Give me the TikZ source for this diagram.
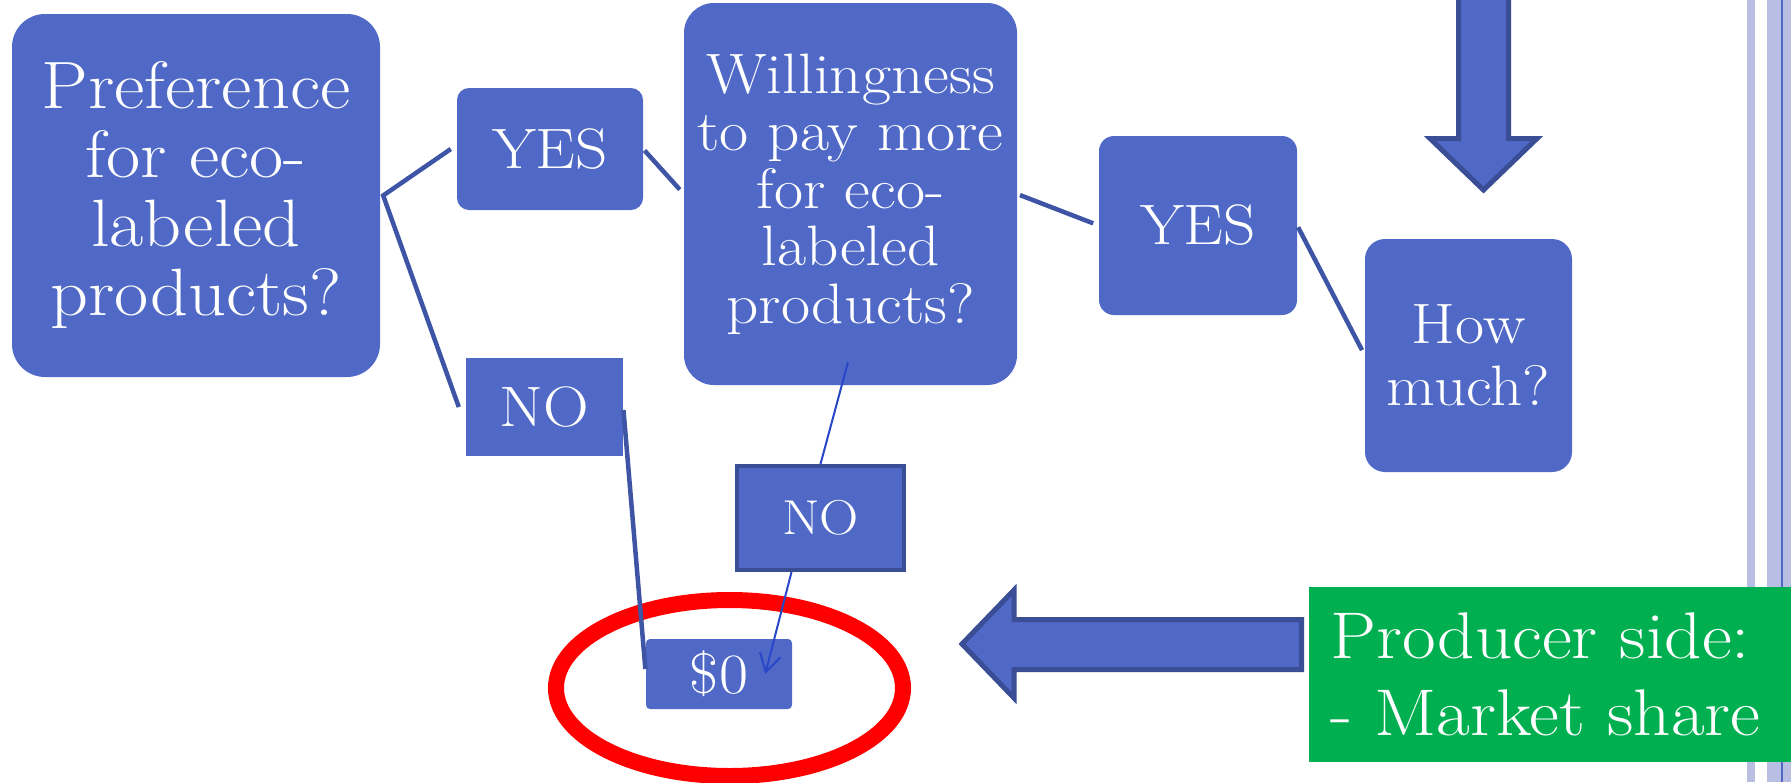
\documentclass[tikz,border=0pt]{standalone}
\usepackage{fontspec}
\setmainfont{Latin Modern Roman}[FakeStretch=1.11]
\usetikzlibrary{arrows.meta}

\definecolor{boxblue}{RGB}{80,105,199}
\definecolor{edgeblue}{RGB}{58,78,150}
\definecolor{linkblue}{RGB}{62,84,165}
\definecolor{thinblue}{RGB}{40,70,200}
\definecolor{barlilac}{RGB}{185,191,227}
\definecolor{prodgreen}{RGB}{0,176,80}

\newcommand{\hugetxt}{\fontsize{67}{69}\selectfont}
\newcommand{\bigtxt}{\fontsize{57}{57.5}\selectfont}
\newcommand{\smalltxt}{\fontsize{49}{50}\selectfont}

\tikzset{
  qbox/.style={fill=boxblue, text=white, align=center, inner sep=0pt, rounded corners=#1},
  qbox/.default=12pt,
  link/.style={draw=linkblue, line width=4.5pt},
  thinlink/.style={draw=thinblue, line width=2pt},
  blockarrow/.style={fill=boxblue, draw=edgeblue, line width=5pt}
}

\begin{document}
\begin{tikzpicture}
\useasboundingbox (0pt,0pt) rectangle (1791pt,-782pt); % adjust bounding box
\fill[white] (0pt,0pt) rectangle (1791pt,-782pt);

% page rules on the right
\fill[barlilac] (1747pt,0pt) rectangle (1755pt,-782pt);
\fill[barlilac] (1767pt,0pt) rectangle (1791pt,-782pt);
\fill[boxblue] (1781pt,0pt) rectangle (1783pt,-782pt);

\node (pref) at (196pt,-195.5pt) [qbox=33pt, minimum width=368pt, minimum height=363pt, font=\hugetxt]
  {Preference\\for eco-\\labeled\\products?};
\node (yes1) at (550pt,-149pt) [qbox=12pt, minimum width=186pt, minimum height=122pt, font=\bigtxt] {YES};
\node (no1) at (544.5pt,-407pt) [qbox=0pt, minimum width=157pt, minimum height=98pt, font=\bigtxt] {NO};
\node (will) at (850.5pt,-194pt) [qbox=30pt, minimum width=333pt, minimum height=382pt, font=\bigtxt]
  {Willingness\\to pay more\\for eco-\\labeled\\products?};
\node (yes2) at (1198pt,-225.5pt) [qbox=15pt, minimum width=198pt, minimum height=179pt, font=\bigtxt] {YES};
\node (howmuch) at (1468.5pt,-355.5pt) [qbox=20pt, minimum width=207pt, minimum height=233pt,
  font=\fontsize{57}{62}\selectfont] {How\\much?};
\node (no2) at (820.5pt,-518pt) [qbox=0pt, draw=edgeblue, line width=4pt, minimum width=167pt,
  minimum height=104pt, font=\smalltxt] {NO};
\node (zero) at (719pt,-674pt) [qbox=4pt, minimum width=146pt, minimum height=70pt, font=\bigtxt] {\$0};

\draw[red, line width=16pt] (729.5pt,-688pt) ellipse [x radius=173.5pt, y radius=88pt];

\draw[link] ([xshift=-6pt]yes1.west) -- ([xshift=3pt]pref.east) -- ([xshift=-7pt]no1.west);
\draw[link, shorten <=2pt, shorten >=6pt] (yes1.east) -- (will.west);
\draw[link, shorten <=3pt, shorten >=6pt] (will.east) -- (yes2.west);
\draw[link, shorten <=2pt, shorten >=6pt] (yes2.east) -- (howmuch.west);
\draw[link, shorten <=3pt, shorten >=5pt] (no1.east) -- (zero.west);
\draw[thinlink] ([shift={(-2.5pt,23pt)}]will.south) -- (no2.north);
\draw[thinlink, -{Straight Barb[length=18pt, width=21pt]}] ([xshift=-29pt]no2.south) -- ([xshift=-27pt]zero.east);

\draw[blockarrow] (1458.5pt,10pt) -- ++(0pt,-148.5pt) -- ++(-28.5pt,0pt) -- (1483.5pt,-190pt)
                  -- (1537pt,-138.5pt) -- ++(-28.5pt,0pt) -- ++(0pt,148.5pt) -- cycle;
\draw[blockarrow] (962pt,-644pt) -- ++(52pt,54pt) -- ++(0pt,-29.5pt) -- ++(287.5pt,0pt)
                  -- ++(0pt,-50pt) -- ++(-287.5pt,0pt) -- ++(0pt,-28.5pt) -- cycle;

\node (prod) at (1309pt,-674.5pt) [anchor=west, fill=prodgreen, text=white, minimum height=175pt,
  text width=440pt, inner xsep=21pt, inner ysep=0pt, align=left, font=\fontsize{66}{77}\selectfont]
  {Producer side:\\- Market share};
\end{tikzpicture}
\end{document}
